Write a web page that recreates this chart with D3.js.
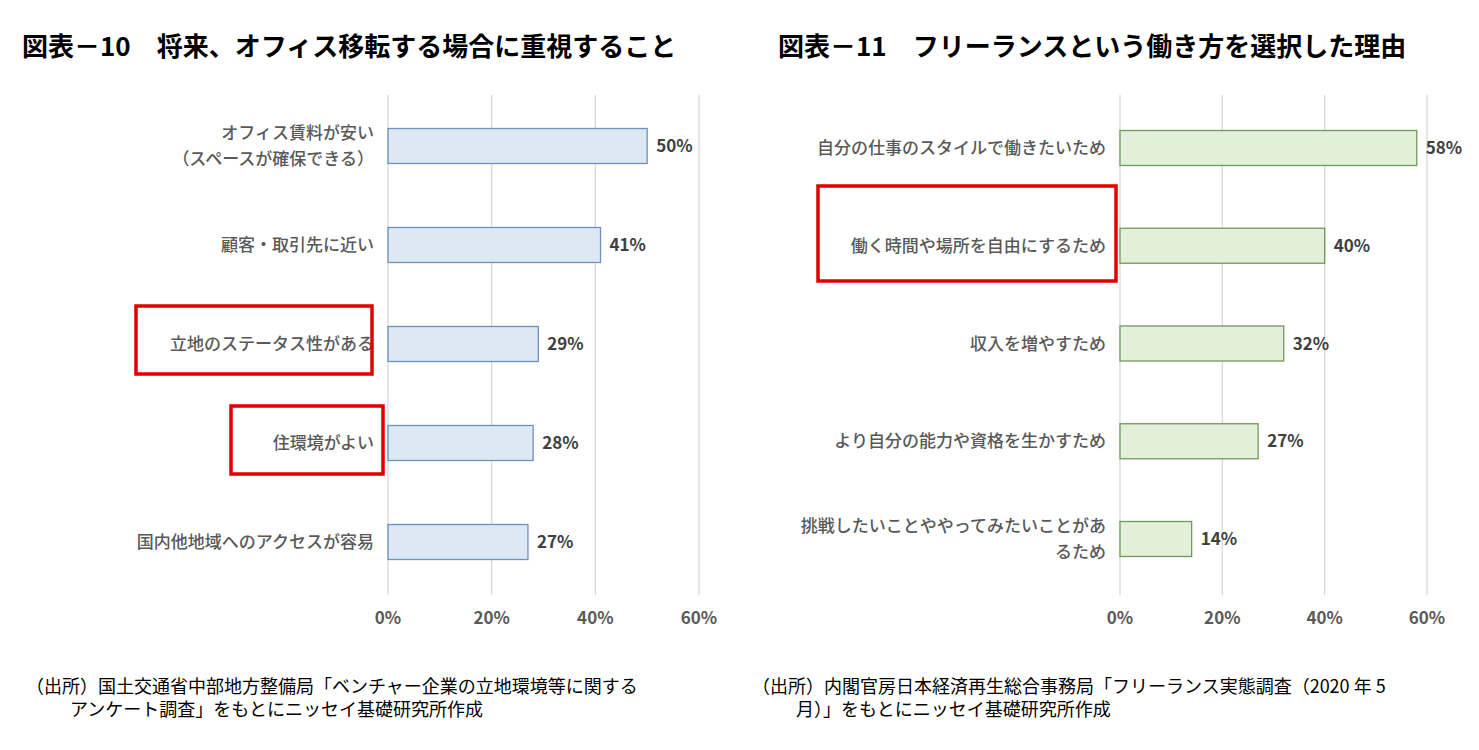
<!DOCTYPE html><html><head><meta charset="utf-8"><script src="https://cdn.jsdelivr.net/npm/d3@7"></script>
<style>body{margin:0;background:#fff}text{font-family:"Noto Sans CJK JP","Noto Sans",sans-serif}</style></head><body><svg id="s" width="1479" height="750"></svg><script>
const cats1=[["オフィス賃料が安い","（スペースが確保できる）"],["顧客・取引先に近い"],["立地のステータス性がある"],["住環境がよい"],["国内他地域へのアクセスが容易"]];
const vals1=[50,41,29,28,27];
const cats2=[["自分の仕事のスタイルで働きたいため"],["働く時間や場所を自由にするため"],["収入を増やすため"],["より自分の能力や資格を生かすため"],["挑戦したいことややってみたいことがあ","るため"]];
const vals2=[58,40,32,27,14];
const ticks=[0,20,40,60];
const svg=d3.select("#s");
function chart(o){
 const g=svg.append("g");
 const x=d3.scaleLinear().domain([0,60]).range([o.x0,o.x1]);
 const y=d3.scalePoint().domain(o.cats.map((d,i)=>i)).range([o.c0,o.c1]);
 const bh=35;
 g.selectAll(".gl").data(ticks).join("line").attr("x1",d=>x(d)).attr("x2",d=>x(d)).attr("y1",95).attr("y2",595).attr("stroke","#d9d9d9").attr("stroke-width",1.3);
 g.selectAll(".tk").data(ticks).join("text").attr("x",d=>x(d)).attr("y",624).attr("text-anchor","middle").attr("font-size",17).attr("font-weight","bold").attr("fill","#595959").text(d=>d+"%");
 g.selectAll("rect.b").data(o.vals).join("rect").attr("x",x(0)).attr("y",(d,i)=>y(i)-bh/2).attr("width",d=>x(d)-x(0)).attr("height",bh).attr("fill",o.fill).attr("stroke",o.stroke).attr("stroke-width",1.3);
 g.selectAll(".vl").data(o.vals).join("text").attr("x",d=>x(d)+9).attr("y",(d,i)=>y(i)+6).attr("font-size",17).attr("font-weight","bold").attr("fill","#404040").text(d=>d+"%");
 o.cats.forEach((c,i)=>{const cy=y(i);c.forEach((t,j)=>g.append("text").attr("x",o.x0-14).attr("y",cy+6+(j-(c.length-1)/2)*26).attr("text-anchor","end").attr("font-size",17).attr("font-weight",500).attr("fill","#595959").text(t));});
 g.append("text").attr("x",o.tx).attr("y",56).attr("font-size",26).attr("font-weight","bold").attr("fill","#000").text(o.title);
 o.src.forEach((t,j)=>g.append("text").attr("x",j?o.sx+44:o.sx).attr("y",693+j*23).attr("font-size",18).attr("fill","#000").text(t));
 o.boxes.forEach(b=>g.append("rect").attr("x",b[0]).attr("y",b[1]).attr("width",b[2]-b[0]).attr("height",b[3]-b[1]).attr("fill","none").attr("stroke","#e00000").attr("stroke-width",3.5));
}
chart({cats:cats1,vals:vals1,x0:388,x1:699,c0:146,c1:542,fill:"#dde8f5",stroke:"#6f91bd",tx:22,title:"図表－10　将来、オフィス移転する場合に重視すること",sx:26,src:["（出所）国土交通省中部地方整備局「ベンチャー企業の立地環境等に関する","アンケート調査」をもとにニッセイ基礎研究所作成"],boxes:[[136,306,372,374],[231,406,383,474]]});
chart({cats:cats2,vals:vals2,x0:1120,x1:1427,c0:148,c1:539,fill:"#e2efd9",stroke:"#6f9a5a",tx:778,title:"図表－11　フリーランスという働き方を選択した理由",sx:752,src:["（出所）内閣官房日本経済再生総合事務局「フリーランス実態調査（2020 年 5","月）」をもとにニッセイ基礎研究所作成"],boxes:[[818,186,1116,281]]});
</script></body></html>
